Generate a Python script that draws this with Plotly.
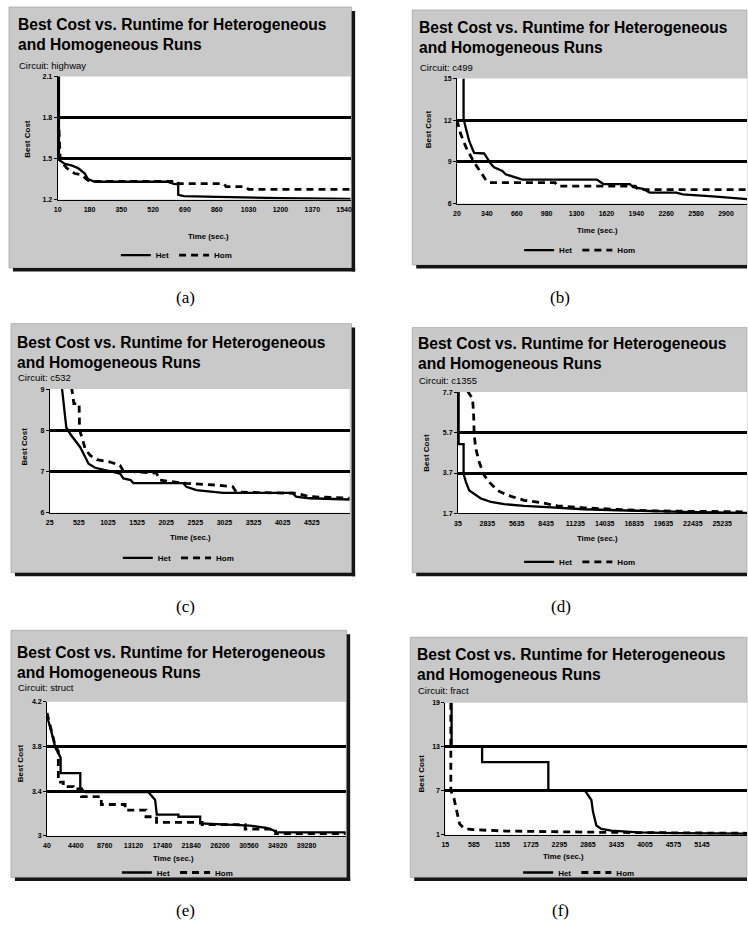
import plotly.graph_objects as go

W, H = 748, 940

# ------------------------------------------------------------------ data
# (a) Circuit: highway
a_het_t = [10, 17, 17, 49, 84, 119, 155, 172, 208, 596, 631, 654, 654, 684, 860, 1037, 1200, 1575]
a_het_c = [2.1, 2.1, 1.49, 1.46, 1.45, 1.43, 1.39, 1.35, 1.33, 1.33, 1.315, 1.31, 1.235, 1.225, 1.22, 1.215, 1.21, 1.205]
a_hom_t = [17, 24, 58, 102, 137, 172, 200, 650, 655, 896, 910, 1010, 1030, 1575]
a_hom_c = [1.71, 1.49, 1.43, 1.39, 1.38, 1.34, 1.333, 1.333, 1.316, 1.316, 1.295, 1.295, 1.274, 1.274]

# (b) Circuit: c499
b_het_t = [91, 91, 116, 151, 187, 204, 311, 346, 382, 417, 506, 541, 630, 701, 720, 1517, 1588, 1871, 1907, 2013, 2084, 2368, 2439, 2794, 3125]
b_het_c = [15, 12.1, 11.4, 10.5, 9.9, 9.65, 9.6, 9.2, 8.85, 8.6, 8.35, 8.1, 7.9, 7.78, 7.72, 7.72, 7.4, 7.4, 7.18, 7.05, 6.78, 6.78, 6.65, 6.5, 6.32]
b_hom_t = [20, 60, 120, 200, 280, 340, 370, 1070, 1100, 1930, 1960, 3125]
b_hom_c = [12.0, 11.0, 10.0, 9.0, 8.2, 7.6, 7.5, 7.5, 7.25, 7.25, 7.0, 7.0]

# (c) Circuit: c532
c_het_t = [230, 276, 310, 378, 464, 549, 635, 692, 805, 1062, 1233, 1290, 1415, 1461, 2315, 2372, 2543, 3000, 4195, 4252, 4480, 5175]
c_het_c = [9.1, 8.55, 8.07, 7.91, 7.75, 7.59, 7.35, 7.19, 7.09, 7.01, 6.95, 6.83, 6.79, 6.72, 6.72, 6.63, 6.55, 6.48, 6.48, 6.39, 6.35, 6.32]
c_hom_t = [400, 440, 530, 538, 578, 635, 720, 834, 1062, 1233, 1290, 1859, 1916, 2372, 2885, 3170, 3227, 4300, 4366, 4480, 5175]
c_hom_c = [9.05, 8.65, 8.65, 8.0, 7.83, 7.55, 7.39, 7.29, 7.23, 7.15, 7.01, 6.96, 6.79, 6.71, 6.67, 6.63, 6.5, 6.47, 6.43, 6.39, 6.35]

# (d) Circuit: c1355
d_het_t = [35, 100, 100, 574, 574, 796, 1113, 1588, 2222, 3173, 4441, 6343, 8879, 12050, 15220, 18390, 21560, 27600]
d_het_c = [7.7, 7.7, 5.13, 5.13, 3.66, 3.25, 2.84, 2.68, 2.44, 2.27, 2.16, 2.08, 1.99, 1.91, 1.86, 1.81, 1.78, 1.73]
d_hom_t = [954, 1430, 1525, 1588, 1747, 2064, 2539, 3015, 3807, 4758, 6343, 7928, 9513, 12050, 15220, 18390, 21560, 27600]
d_hom_c = [7.75, 7.37, 6.66, 5.54, 4.89, 4.23, 3.58, 3.25, 2.84, 2.6, 2.35, 2.24, 2.08, 1.98, 1.9, 1.83, 1.81, 1.78]

# (e) Circuit: struct
e_het_t = [40, 290, 795, 1300, 1650, 2100, 2100, 5070, 5070, 5825, 15380, 15885, 16390, 16640, 19910, 19910, 23200, 23200, 27700, 30720, 33240, 34240, 34750, 45200]
e_het_c = [4.05, 4.02, 3.91, 3.79, 3.75, 3.7, 3.56, 3.56, 3.43, 3.39, 3.39, 3.35, 3.32, 3.19, 3.19, 3.17, 3.17, 3.11, 3.10, 3.09, 3.07, 3.05, 3.03, 3.03]
e_hom_t = [40, 795, 1300, 1750, 1750, 2500, 2500, 4000, 4000, 5250, 5250, 8250, 8250, 11850, 11850, 15000, 15000, 16600, 16600, 23500, 23500, 30000, 30000, 34600, 34600, 45200]
e_hom_c = [4.1, 3.91, 3.8, 3.76, 3.48, 3.48, 3.44, 3.44, 3.42, 3.42, 3.35, 3.35, 3.28, 3.28, 3.23, 3.23, 3.17, 3.17, 3.12, 3.12, 3.10, 3.10, 3.06, 3.06, 3.02, 3.02]

# (f) Circuit: fract
f_het_t = [140, 140, 750, 750, 2074, 2074, 2800, 2868, 2934, 2967, 3034, 3133, 3332, 3861, 4600, 6045]
f_het_c = [19, 13, 13, 10.9, 10.9, 7.1, 7.1, 6.44, 5.74, 4.12, 2.26, 1.79, 1.56, 1.33, 1.23, 1.14]
f_hom_t = [125, 125, 187, 253, 300, 386, 551, 1213, 2206, 3200, 6045]
f_hom_c = [19, 7.0, 5.98, 4.12, 2.49, 1.88, 1.70, 1.51, 1.42, 1.33, 1.2]

# tick values / labels
a_xticks = [10, 180, 350, 520, 690, 860, 1030, 1200, 1370, 1540]
b_xticks = [20, 340, 660, 980, 1300, 1620, 1940, 2260, 2580, 2900]
c_xticks = [25, 525, 1025, 1525, 2025, 2525, 3025, 3525, 4025, 4525]
d_xticks = [35, 2835, 5635, 8435, 11235, 14035, 16835, 19635, 22435, 25235]
e_xticks = [40, 4400, 8760, 13120, 17480, 21840, 26200, 30560, 34920, 39280]
f_xticks = [15, 585, 1155, 1725, 2295, 2865, 3435, 4005, 4575, 5145]
a_yticks = [1.2, 1.5, 1.8, 2.1]
b_yticks = [6, 9, 12, 15]
c_yticks = [6, 7, 8, 9]
d_yticks = [1.7, 3.7, 5.7, 7.7]
e_yticks = [3, 3.4, 3.8, 4.2]
f_yticks = [1, 7, 13, 19]
a_ylabels = ["1.2", "1.5", "1.8", "2.1"]
b_ylabels = ["6", "9", "12", "15"]
c_ylabels = ["6", "7", "8", "9"]
d_ylabels = ["1.7", "3.7", "5.7", "7.7"]
e_ylabels = ["3", "3.4", "3.8", "4.2"]
f_ylabels = ["1", "7", "13", "19"]
a_xrange = [10, 1575]
b_xrange = [20, 3125]
c_xrange = [25, 5175]
d_xrange = [35, 27600]
e_xrange = [40, 45200]
f_xrange = [15, 6045]

circuits = ["highway", "c499", "c532", "c1355", "struct", "fract"]
captions = ["(a)", "(b)", "(c)", "(d)", "(e)", "(f)"]
title_text = "Best Cost vs. Runtime for Heterogeneous<br>and Homogeneous Runs"
series_names = ["Het", "Hom"]

data = [
    (a_het_t, a_het_c, a_hom_t, a_hom_c, a_xticks, a_yticks, a_ylabels, a_xrange),
    (b_het_t, b_het_c, b_hom_t, b_hom_c, b_xticks, b_yticks, b_ylabels, b_xrange),
    (c_het_t, c_het_c, c_hom_t, c_hom_c, c_xticks, c_yticks, c_ylabels, c_xrange),
    (d_het_t, d_het_c, d_hom_t, d_hom_c, d_xticks, d_yticks, d_ylabels, d_xrange),
    (e_het_t, e_het_c, e_hom_t, e_hom_c, e_xticks, e_yticks, e_ylabels, e_xrange),
    (f_het_t, f_het_c, f_hom_t, f_hom_c, f_xticks, f_yticks, f_ylabels, f_xrange),
]

# ------------------------------------------------------------------ layout geometry (pixels)
geom = [
    dict(plot=(54, 349, 73, 197), box=(5, 350, 3, 266), rshadow=True,
         title=(12, 10), circ=(13, 62), ytit=(24, 136), xtit=(206, 234), leg=(174, 253), cap=(183, 296)),
    dict(plot=(456, 748, 75, 201), box=(411, 748, 6, 263), rshadow=False,
         title=(416, 13), circ=(417, 64), ytit=(427, 126), xtit=(597, 228), leg=(580, 248), cap=(560, 296)),
    dict(plot=(46, 348, 388, 512.5), box=(7, 350, 322, 573), rshadow=True,
         title=(11, 330), circ=(12, 376), ytit=(21, 446), xtit=(188, 537), leg=(176, 558), cap=(183, 607)),
    dict(plot=(457, 748, 391, 513.3), box=(411, 748, 326, 573), rshadow=False,
         title=(415, 331), circ=(416, 379), ytit=(425, 452), xtit=(597, 539), leg=(580, 562), cap=(561, 607)),
    dict(plot=(43.3, 344, 703, 838), box=(7, 345, 631, 880), rshadow=True,
         title=(11, 643), circ=(12, 689), ytit=(16, 765), xtit=(171, 861), leg=(175, 875), cap=(183, 913)),
    dict(plot=(444.3, 748, 704, 837), box=(409, 748, 638, 880), rshadow=False,
         title=(414, 645), circ=(415, 692), ytit=(420, 775), xtit=(563, 859), leg=(579, 875), cap=(560, 913)),
]

GRAY = "#c9c9c9"
SANS = "Liberation Sans, Arial, sans-serif"
SERIF = "Liberation Serif, DejaVu Serif, serif"


def px(x):
    return x / W


def py(y):
    return 1 - y / H


fig = go.Figure()
shapes_gray, shapes_shadow, shapes_white = [], [], []
annotations = []
layout = dict(width=W, height=H, margin=dict(l=0, r=0, t=0, b=0),
              paper_bgcolor="white", plot_bgcolor="rgba(0,0,0,0)", showlegend=True)

for i, (g, d) in enumerate(zip(geom, data)):
    n = "" if i == 0 else str(i + 1)
    het_t, het_c, hom_t, hom_c, xt, yt, yl, xr = d
    legname = "legend" + n
    xa, ya = "x" + n, "y" + n

    fig.add_trace(go.Scatter(x=het_t, y=het_c, mode="lines", name=series_names[0],
                             line=dict(color="black", width=2.3), xaxis=xa, yaxis=ya, legend=legname))
    fig.add_trace(go.Scatter(x=hom_t, y=hom_c, mode="lines", name=series_names[1],
                             line=dict(color="black", width=2.8, dash="7px,5px"), xaxis=xa, yaxis=ya,
                             legend=legname))

    x0, x1, y0, y1 = g["plot"]
    layout["xaxis" + n] = dict(domain=[px(x0), px(x1)], anchor=ya, range=xr, tickvals=xt,
                               ticktext=[str(v) for v in xt],
                               showgrid=False, zeroline=False, showline=True, linecolor="black",
                               linewidth=1.2, ticks="", ticklabelstandoff=3,
                               tickfont=dict(family=SANS, size=7, color="black", weight="bold"))
    layout["yaxis" + n] = dict(domain=[py(y1), py(y0)], anchor=xa, range=[yt[0], yt[-1]],
                               tickvals=yt, ticktext=yl, showgrid=True, gridcolor="black",
                               gridwidth=2.6, zeroline=False, showline=True, linecolor="black",
                               linewidth=1, ticks="outside", ticklen=3, tickwidth=1, tickcolor="black",
                               tickfont=dict(family=SANS, size=7, color="black", weight="bold"))
    lx, ly = g["leg"]
    layout[legname] = dict(x=px(lx), y=py(ly), xanchor="center", yanchor="middle",
                           orientation="h", bgcolor="rgba(0,0,0,0)", itemwidth=30,
                           font=dict(family=SANS, size=8, color="black", weight="bold"),
                           tracegroupgap=0, traceorder="normal")

    bx0, bx1, by0, by1 = g["box"]
    shapes_gray.append(dict(type="rect", xref="paper", yref="paper", layer="below",
                            x0=px(bx0), x1=px(bx1), y0=py(by1), y1=py(by0),
                            fillcolor=GRAY, line=dict(width=0.6, color="#9a9a9a")))
    shapes_shadow.append(dict(type="rect", xref="paper", yref="paper", layer="below",
                              x0=px(bx0 + 4), x1=px(min(bx1 + 3.5, W)), y0=py(by1 + 3.5), y1=py(by1),
                              fillcolor="#151515", line=dict(width=0)))
    if g["rshadow"]:
        shapes_shadow.append(dict(type="rect", xref="paper", yref="paper", layer="below",
                                  x0=px(bx1), x1=px(bx1 + 3.5), y0=py(by1 + 3.5), y1=py(by0 + 4),
                                  fillcolor="#151515", line=dict(width=0)))
    shapes_white.append(dict(type="rect", xref="paper", yref="paper", layer="below",
                             x0=px(x0), x1=px(x1), y0=py(y1), y1=py(y0),
                             fillcolor="white", line=dict(width=0)))

    tx, ty = g["title"]
    annotations.append(dict(text=title_text, x=px(tx), y=py(ty), xref="paper", yref="paper",
                            xanchor="left", yanchor="top", align="left", showarrow=False,
                            font=dict(family=SANS, size=15.6, color="black", weight="bold")))
    cx, cy = g["circ"]
    annotations.append(dict(text="Circuit: " + circuits[i], x=px(cx), y=py(cy), xref="paper",
                            yref="paper", xanchor="left", yanchor="middle", showarrow=False,
                            font=dict(family=SANS, size=9.5, color="black")))
    yx, yy = g["ytit"]
    annotations.append(dict(text="Best Cost", x=px(yx), y=py(yy), xref="paper", yref="paper",
                            xanchor="center", yanchor="middle", textangle=-90, showarrow=False,
                            font=dict(family=SANS, size=8, color="black", weight="bold")))
    xx, xy = g["xtit"]
    annotations.append(dict(text="Time (sec.)", x=px(xx), y=py(xy), xref="paper", yref="paper",
                            xanchor="center", yanchor="middle", showarrow=False,
                            font=dict(family=SANS, size=7.8, color="black", weight="bold")))
    kx, ky = g["cap"]
    annotations.append(dict(text=captions[i], x=px(kx), y=py(ky), xref="paper", yref="paper",
                            xanchor="center", yanchor="middle", showarrow=False,
                            font=dict(family=SERIF, size=17, color="black")))

layout["shapes"] = shapes_gray + shapes_shadow + shapes_white
layout["annotations"] = annotations
fig.update_layout(**layout)
fig.write_html("out.html", config={"displayModeBar": False},
               post_script="document.body.style.margin='0px';document.body.style.padding='0px';"
                           "document.body.style.overflow='hidden';")
